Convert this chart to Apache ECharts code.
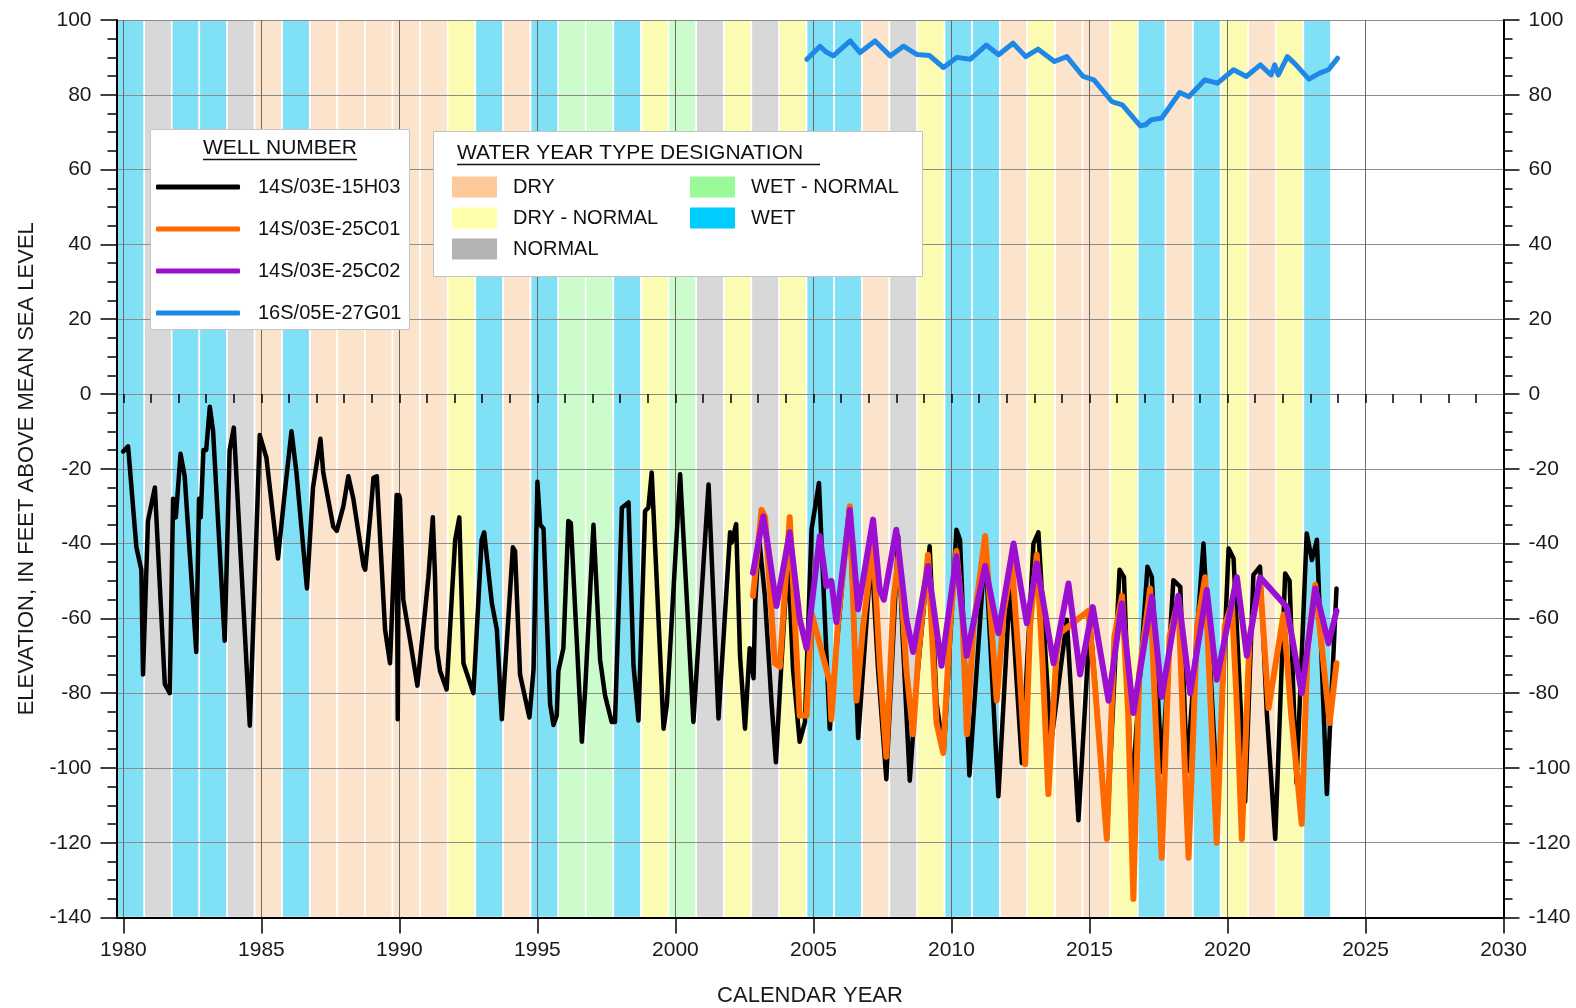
<!DOCTYPE html>
<html><head><meta charset="utf-8">
<script src="https://cdn.jsdelivr.net/npm/echarts@6/dist/echarts.min.js"></script>
<style>html,body{margin:0;padding:0;background:#fff}#chart{width:1576px;height:1008px}</style>
</head><body><div id="chart"></div>
<script>
// ---------- DATA ----------
const waterYears = [1980,1981,1982,1983,1984,1985,1986,1987,1988,1989,1990,1991,1992,1993,1994,1995,1996,1997,1998,1999,2000,2001,2002,2003,2004,2005,2006,2007,2008,2009,2010,2011,2012,2013,2014,2015,2016,2017,2018,2019,2020,2021,2022,2023];
const waterYearTypes = ['WET','NORMAL','WET','WET','NORMAL','DRY','WET','DRY','DRY','DRY','DRY','DRY','DRY - NORMAL','WET','DRY','WET','WET - NORMAL','WET - NORMAL','WET','DRY - NORMAL','WET - NORMAL','NORMAL','DRY - NORMAL','NORMAL','DRY - NORMAL','WET','WET','DRY','NORMAL','DRY - NORMAL','WET','WET','DRY','DRY - NORMAL','DRY','DRY','DRY - NORMAL','WET','DRY','WET','DRY - NORMAL','DRY','DRY - NORMAL','WET'];
const typeNames = ['DRY','DRY - NORMAL','NORMAL','WET - NORMAL','WET'];
const typeLegendColors = ['#FDC99B','#FFFFAA','#B3B3B3','#9AFA9A','#00CCFF'];
const typeBandColors = ['#FCE3CB','#FCFBB2','#D8D8D8','#CCFCCB','#80E0F6'];
const xTickYears = [1980,1985,1990,1995,2000,2005,2010,2015,2020,2025,2030];
const xMinorYears = [1980,1981,1982,1983,1984,1985,1986,1987,1988,1989,1990,1991,1992,1993,1994,1995,1996,1997,1998,1999,2000,2001,2002,2003,2004,2005,2006,2007,2008,2009,2010,2011,2012,2013,2014,2015,2016,2017,2018,2019,2020,2021,2022,2023,2024,2025,2026,2027,2028,2029,2030];

const well15H03 = [[1979.99,-15.4],[1980.17,-14],[1980.47,-41],[1980.65,-47],[1980.71,-75],[1980.89,-34],[1981.14,-25],[1981.5,-77.6],[1981.68,-80],[1981.8,-28],[1981.9,-33],[1982.07,-16],[1982.22,-22],[1982.64,-69],[1982.74,-28],[1982.8,-33],[1982.9,-15],[1983.0,-15],[1983.13,-3.4],[1983.25,-10],[1983.67,-66],[1983.85,-15],[1984.0,-9],[1984.58,-88.7],[1984.94,-11],[1985.18,-17],[1985.6,-44],[1985.85,-26],[1986.09,-10],[1986.27,-21],[1986.65,-52],[1986.87,-25],[1987.14,-12],[1987.24,-21],[1987.6,-35.4],[1987.73,-36.6],[1987.97,-30],[1988.15,-22],[1988.33,-28],[1988.7,-46],[1988.76,-47],[1988.94,-33],[1989.06,-22.4],[1989.18,-22],[1989.48,-63],[1989.66,-72],[1989.9,-27],[1989.94,-87],[1989.98,-27],[1990.02,-28],[1990.14,-55],[1990.39,-66],[1990.65,-78],[1990.93,-58],[1991.05,-49],[1991.21,-33],[1991.29,-49],[1991.35,-68],[1991.47,-74],[1991.71,-79],[1991.9,-54],[1992.02,-39],[1992.17,-33],[1992.32,-72],[1992.68,-80],[1992.98,-39],[1993.07,-37],[1993.35,-56],[1993.53,-63],[1993.71,-87],[1994.11,-41],[1994.19,-42],[1994.37,-75],[1994.71,-86.5],[1994.86,-73.5],[1995.0,-23.5],[1995.1,-35],[1995.22,-36],[1995.46,-83],[1995.58,-88.5],[1995.7,-86],[1995.76,-74],[1995.94,-68],[1996.12,-34],[1996.21,-34.5],[1996.37,-58],[1996.61,-93],[1996.73,-79],[1997.03,-35],[1997.27,-71],[1997.45,-80.6],[1997.69,-87.7],[1997.81,-87.7],[1998.06,-30.4],[1998.3,-29],[1998.48,-72.6],[1998.66,-87.3],[1998.9,-31.3],[1999.02,-30.4],[1999.14,-21],[1999.57,-89.5],[1999.69,-83],[2000.17,-21.5],[2000.65,-87.7],[2001.2,-24.2],[2001.56,-86.8],[2001.98,-37],[2002.04,-39.7],[2002.2,-34.8],[2002.34,-70],[2002.52,-89.5],[2002.69,-68],[2002.83,-76],[2002.89,-56],[2003.03,-38.5],[2003.24,-54],[2003.48,-82.5],[2003.64,-98.5],[2003.84,-72],[2004.08,-43.4],[2004.26,-73.6],[2004.5,-93],[2004.69,-87.8],[2004.93,-36.3],[2005.2,-23.8],[2005.35,-49.6],[2005.59,-89.6],[2005.75,-75],[2006.29,-30.5],[2006.44,-56],[2006.62,-92],[2007.1,-42.5],[2007.34,-73.6],[2007.64,-103],[2008.07,-38],[2008.25,-68],[2008.49,-103.4],[2008.73,-78],[2009.21,-40.7],[2009.46,-82.5],[2009.72,-96],[2010.18,-36.3],[2010.31,-39],[2010.65,-102],[2011.22,-41],[2011.7,-107.6],[2012.13,-50],[2012.55,-98.7],[2012.97,-40],[2013.15,-37],[2013.6,-94],[2014.18,-60.4],[2014.6,-114],[2015.02,-60.4],[2015.63,-118],[2016.09,-47],[2016.25,-49],[2016.53,-108],[2017.1,-46.2],[2017.26,-49],[2017.62,-101],[2018.04,-49.8],[2018.29,-51.6],[2018.53,-101],[2019.13,-40],[2019.65,-110],[2020.04,-41.3],[2020.22,-44],[2020.64,-109],[2020.94,-48.4],[2021.18,-46.2],[2021.43,-86],[2021.73,-119],[2022.09,-48],[2022.25,-50],[2022.5,-104],[2022.87,-37.3],[2023.06,-44.4],[2023.24,-39],[2023.6,-107],[2023.95,-52]];

const well25C01 = [[2002.81,-54],[2003.12,-31],[2003.25,-33],[2003.6,-72],[2003.78,-73],[2004.14,-33],[2004.5,-86],[2004.75,-86],[2004.93,-58.5],[2005.59,-77],[2005.65,-87],[2005.9,-60],[2006.32,-30],[2006.56,-82],[2006.8,-62],[2007.16,-40],[2007.4,-72],[2007.64,-97],[2007.9,-55],[2008.1,-42.5],[2008.37,-74],[2008.61,-91],[2008.8,-70],[2009.15,-43],[2009.46,-88],[2009.7,-96],[2009.95,-62],[2010.18,-42],[2010.4,-60],[2010.56,-91],[2010.8,-62],[2011.22,-38],[2011.45,-62],[2011.64,-82],[2011.9,-58],[2012.19,-45],[2012.45,-72],[2012.67,-99],[2012.85,-62],[2013.09,-43],[2013.3,-72],[2013.51,-107],[2013.8,-70],[2013.92,-64],[2014.96,-58],[2015.2,-78],[2015.63,-119],[2015.9,-65],[2016.18,-54],[2016.4,-85],[2016.59,-135],[2016.8,-75],[2017.2,-52],[2017.4,-88],[2017.62,-124],[2017.9,-65],[2018.22,-55],[2018.4,-90],[2018.59,-124],[2018.9,-62],[2019.19,-49],[2019.4,-85],[2019.61,-120],[2019.9,-62],[2020.16,-56],[2020.35,-85],[2020.52,-119],[2020.8,-65],[2021.18,-50],[2021.49,-84],[2022.03,-59],[2022.3,-85],[2022.69,-115],[2022.9,-68],[2023.18,-51],[2023.45,-70],[2023.7,-88],[2023.95,-72]];

const well25C02 = [[2002.81,-47.8],[2003.18,-32.7],[2003.3,-38],[2003.66,-56.7],[2004.14,-37],[2004.5,-60],[2004.75,-68],[2005.23,-38],[2005.47,-51.4],[2005.65,-50],[2005.83,-61],[2006.32,-31],[2006.62,-57.6],[2007.16,-33.6],[2007.4,-52.3],[2007.55,-55],[2008.0,-36.3],[2008.37,-60.3],[2008.61,-69],[2009.15,-46],[2009.64,-72.7],[2010.18,-43.4],[2010.55,-70],[2011.22,-46],[2011.7,-64],[2012.25,-40],[2012.73,-61.3],[2013.09,-45.3],[2013.7,-72],[2014.24,-50.7],[2014.66,-75],[2015.12,-57],[2015.69,-82],[2016.17,-56],[2016.59,-85.3],[2017.26,-54.2],[2017.62,-81],[2018.22,-54],[2018.65,-80],[2019.25,-52.4],[2019.61,-76.4],[2020.34,-49],[2020.7,-70],[2021.18,-49],[2022.15,-57],[2022.69,-80],[2023.18,-52],[2023.66,-66.7],[2023.95,-58]];

const well27G01 = [[2004.76,89.5],[2005.24,93],[2005.45,91.5],[2005.72,90.4],[2006.33,94.4],[2006.69,91.3],[2007.23,94.4],[2007.78,90.4],[2008.26,93],[2008.74,90.8],[2009.2,90.5],[2009.71,87.3],[2010.19,90],[2010.68,89.5],[2011.26,93.3],[2011.71,90.7],[2012.23,93.8],[2012.69,90.2],[2013.14,92.2],[2013.73,88.9],[2014.18,90.2],[2014.77,84.9],[2015.16,84],[2015.81,78.2],[2016.19,77.3],[2016.84,71.7],[2017.04,72],[2017.23,73.3],[2017.62,73.8],[2018.27,80.6],[2018.6,79.5],[2019.18,84],[2019.64,83.1],[2020.22,86.7],[2020.68,84.9],[2021.19,88],[2021.58,85.3],[2021.71,88],[2021.84,85.3],[2022.17,90.2],[2022.43,88.4],[2022.95,84.2],[2023.34,85.8],[2023.66,86.7],[2023.99,89.8]];

const wellNames = ['14S/03E-15H03','14S/03E-25C01','14S/03E-25C02','16S/05E-27G01'];
const wellColors = ['#000000','#FF6A00','#9A0FD0','#1F87E6'];

// ---------- CHART ----------
const FONT = "'Liberation Sans', Arial, sans-serif";
const chart = echarts.init(document.getElementById('chart'), null, {renderer: 'canvas'});

const bandSeries = typeNames.map((name, k) => ({
  type: 'custom', name, z: 0, silent: true, animation: false,
  xAxisIndex: 0, yAxisIndex: 0,
  itemStyle: {color: typeLegendColors[k]},
  encode: {x: [0, 1]},
  data: waterYears.filter((y, i) => waterYearTypes[i] === name).map(y => [y - 0.25, y + 0.75]),
  renderItem: (params, api) => {
    const p0 = api.coord([api.value(0), -140]);
    const p1 = api.coord([api.value(1), 100]);
    return {type: 'rect', shape: {x: p0[0], y: p1[1], width: p1[0] - p0[0], height: p0[1] - p1[1]},
            style: {fill: typeBandColors[k], stroke: '#ffffff', lineWidth: 1.6}};
  }
}));

const wellData = [well15H03, well25C01, well25C02, well27G01];
const wellWidths = [4.5, 6, 6, 5];
const lineSeries = wellNames.map((name, k) => ({
  type: 'line', name, data: wellData[k], z: 2 + k * 0.1, xAxisIndex: 0, yAxisIndex: 0,
  showSymbol: false, symbol: 'none', animation: false, silent: true,
  itemStyle: {color: wellColors[k]},
  lineStyle: {color: wellColors[k], width: wellWidths[k], join: 'round', cap: 'round'}
}));

const yCommon = {
  type: 'value', min: -140, max: 100, interval: 20, z: 1,
  axisLine: {show: true, onZero: false, lineStyle: {color: '#000', width: 2}},
  axisTick: {show: true, length: 16, lineStyle: {color: '#000', width: 1.5}},
  minorTick: {show: true, splitNumber: 4, length: 9, lineStyle: {color: '#000', width: 1.5}},
  axisLabel: {margin: 25, fontSize: 21, fontFamily: FONT, color: '#1a1a1a'}
};

const option = {
  backgroundColor: '#ffffff',
  animation: false,
  grid: {left: 116.5, right: 72.5, top: 20, bottom: 90.5, containLabel: false, outerBoundsMode: 'none'},
  xAxis: [{
    type: 'value', min: 1979.75, max: 2030, position: 'bottom', z: 1,
    axisLine: {show: true, onZero: false, lineStyle: {color: '#000', width: 2}},
    axisTick: {show: true, length: 16, customValues: xTickYears, lineStyle: {color: '#000', width: 1.5}},
    axisLabel: {show: true, customValues: xTickYears, margin: 22, fontSize: 21, fontFamily: FONT, color: '#1a1a1a',
                formatter: v => String(Math.round(v))},
    splitLine: {show: true, lineStyle: {color: '#6a6a6a', width: 1}},
    name: 'CALENDAR YEAR', nameLocation: 'middle', nameGap: 67,
    nameTextStyle: {fontSize: 22, fontFamily: FONT, color: '#1a1a1a'}
  }, {
    type: 'value', min: 1979.75, max: 2030, position: 'bottom', z: 1,
    axisLine: {show: false},
    axisTick: {show: true, length: 9, customValues: xMinorYears, lineStyle: {color: '#000', width: 1.5}},
    axisLabel: {show: false},
    splitLine: {show: false}
  }],
  yAxis: [Object.assign({}, yCommon, {
    position: 'left',
    splitLine: {show: true, lineStyle: {color: '#8c8c8c', width: 1}},
    name: 'ELEVATION, IN FEET ABOVE MEAN SEA LEVEL', nameLocation: 'middle', nameGap: 79,
    nameTextStyle: {fontSize: 22, fontFamily: FONT, color: '#1a1a1a'}
  }), Object.assign({}, yCommon, {
    position: 'right',
    splitLine: {show: false}
  })],
  legend: [{
    data: wellNames, orient: 'vertical', left: 156, top: 176, padding: 0,
    itemWidth: 84, itemHeight: 5, itemGap: 20, icon: 'roundRect', selectedMode: false,
    textStyle: {fontSize: 20, lineHeight: 22, fontFamily: FONT, color: '#111', padding: [0, 0, 0, 13]}
  }, {
    data: typeNames.slice(0, 3), orient: 'vertical', left: 452, top: 176, padding: 0,
    itemWidth: 45, itemHeight: 21, itemGap: 9, icon: 'rect', selectedMode: false,
    textStyle: {fontSize: 20, lineHeight: 22, fontFamily: FONT, color: '#111', padding: [0, 0, 0, 11]}
  }, {
    data: typeNames.slice(3), orient: 'vertical', left: 690, top: 176, padding: 0,
    itemWidth: 45, itemHeight: 21, itemGap: 9, icon: 'rect', selectedMode: false,
    textStyle: {fontSize: 20, lineHeight: 22, fontFamily: FONT, color: '#111', padding: [0, 0, 0, 11]}
  }],
  graphic: [
    {type: 'rect', z: 3, shape: {x: 150.5, y: 129.5, width: 259, height: 200}, style: {fill: '#ffffff', stroke: '#c4c4c4', lineWidth: 1}},
    {type: 'text', z: 3, x: 280, y: 148, style: {text: 'WELL NUMBER', fontSize: 21, fontFamily: FONT, fill: '#111', align: 'center', verticalAlign: 'middle'}},
    {type: 'line', z: 3, shape: {x1: 203, y1: 159.5, x2: 357, y2: 159.5}, style: {stroke: '#111', lineWidth: 1.5}},
    {type: 'rect', z: 3, shape: {x: 433.5, y: 131.5, width: 489, height: 145}, style: {fill: '#ffffff', stroke: '#c4c4c4', lineWidth: 1}},
    {type: 'text', z: 3, x: 457, y: 153, style: {text: 'WATER YEAR TYPE DESIGNATION', fontSize: 21, fontFamily: FONT, fill: '#111', align: 'left', verticalAlign: 'middle'}},
    {type: 'line', z: 3, shape: {x1: 457, y1: 164.5, x2: 820, y2: 164.5}, style: {stroke: '#111', lineWidth: 1.5}}
  ],
  series: bandSeries.concat(lineSeries)
};
chart.setOption(option);
</script></body></html>
